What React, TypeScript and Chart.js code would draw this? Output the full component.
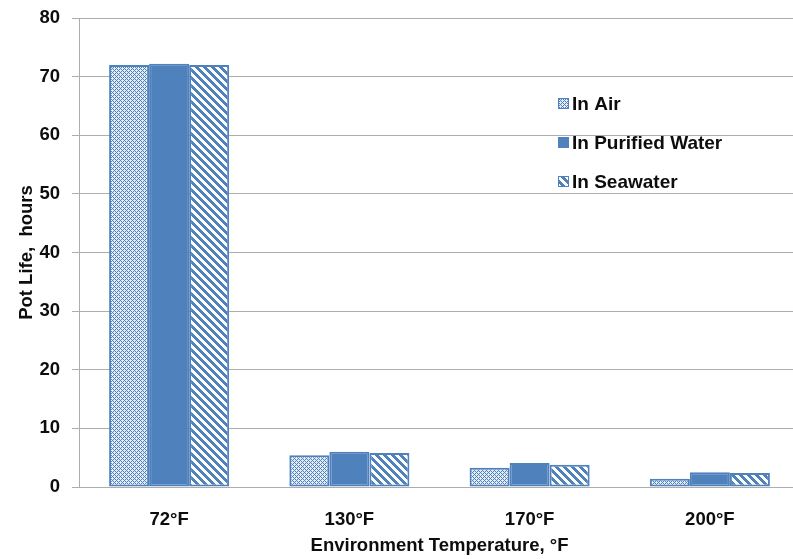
import React, { useEffect, useRef } from "react";
import { Chart, registerables } from "chart.js";

Chart.register(...registerables);

const categories = ["72°F", "130°F", "170°F", "200°F"];
const seriesNames = ["In Air", "In Purified Water", "In Seawater"];
const inAir = [72, 5.4, 3.3, 1.4];
const inPurifiedWater = [72.2, 6.0, 4.1, 2.5];
const inSeawater = [72, 5.8, 3.8, 2.4];
const yTicks = [0, 10, 20, 30, 40, 50, 60, 70, 80];

const BLUE = "#4F81BD";
const GRID = "#ADADAD";
const TEXT = "#0d0d0d";
const FONT = "'Liberation Sans', Arial, sans-serif";

function makeAirPattern(ctx: CanvasRenderingContext2D) {
  const n = 4;
  const c = document.createElement("canvas");
  c.width = n;
  c.height = n;
  const t = c.getContext("2d")!;
  for (let y = 0; y < n; y++) {
    for (let x = 0; x < n; x++) {
      const onA = (x + y) % n === 0;
      const onB = (((x - y) % n) + n) % n === 0;
      t.fillStyle = onA || onB ? BLUE : "#E4ECF6";
      t.fillRect(x, y, 1, 1);
    }
  }
  return ctx.createPattern(c, "repeat")!;
}

function makeStripePattern(ctx: CanvasRenderingContext2D) {
  const n = 8;
  const c = document.createElement("canvas");
  c.width = n;
  c.height = n;
  const t = c.getContext("2d")!;
  t.fillStyle = "#ffffff";
  t.fillRect(0, 0, n, n);
  t.fillStyle = BLUE;
  for (let y = 0; y < n; y++) {
    for (let x = 0; x < n; x++) {
      const d = (((x - y) % n) + n) % n;
      if (d < 4) t.fillRect(x, y, 1, 1);
    }
  }
  return ctx.createPattern(c, "repeat")!;
}

export default function App() {
  const ref = useRef<HTMLCanvasElement | null>(null);

  useEffect(() => {
    const canvas = ref.current!;
    const ctx = canvas.getContext("2d")!;
    const airPat = makeAirPattern(ctx);
    const seaPat = makeStripePattern(ctx);
    const fills: any[] = [airPat, BLUE, seaPat];

    const legendPlugin = {
      id: "customLegend",
      afterDraw(chart: any) {
        const c = chart.ctx as CanvasRenderingContext2D;
        const area = chart.chartArea;
        const boxX = area.left + 479;
        const textX = area.left + 493;
        const ys = [103.5, 142.5, 181.5];
        c.save();
        c.font = `bold 19px ${FONT}`;
        c.textBaseline = "middle";
        c.textAlign = "left";
        seriesNames.forEach((name, i) => {
          const cy = ys[i];
          c.fillStyle = fills[i];
          c.fillRect(boxX, cy - 5.5, 11, 11);
          c.strokeStyle = BLUE;
          c.lineWidth = 1;
          c.strokeRect(boxX + 0.5, cy - 5, 10, 10);
          c.fillStyle = TEXT;
          c.fillText(name, textX, cy + 1);
        });
        c.restore();
      },
    };

    const mk = (label: string, data: number[], fill: any) => ({
      label,
      data,
      backgroundColor: fill,
      borderColor: BLUE,
      borderWidth: 2,
      borderSkipped: false,
      categoryPercentage: 0.666,
      barPercentage: 1.0,
    });

    const chart = new Chart(ctx, {
      type: "bar",
      data: {
        labels: categories,
        datasets: [
          mk(seriesNames[0], inAir, airPat),
          mk(seriesNames[1], inPurifiedWater, BLUE),
          mk(seriesNames[2], inSeawater, seaPat),
        ],
      },
      options: {
        animation: false,
        responsive: false,
        devicePixelRatio: 1,
        layout: { padding: { left: 0, right: 0, top: 18, bottom: 0 } },
        plugins: {
          legend: { display: false },
          tooltip: { enabled: false },
          title: { display: false },
        },
        scales: {
          x: {
            grid: { display: false, drawTicks: false },
            border: { display: true, color: GRID, width: 1 },
            ticks: {
              color: TEXT,
              font: { family: FONT, size: 18.5, weight: "bold" },
              padding: 22,
              maxRotation: 0,
            },
            title: {
              display: true,
              text: "Environment Temperature, °F",
              color: TEXT,
              font: { family: FONT, size: 18.5, weight: "bold" },
              padding: { top: 0, bottom: 2 },
            },
            afterFit(scale: any) {
              scale.height = 72;
              scale.paddingLeft = 0;
              scale.paddingRight = 0;
            },
          },
          y: {
            min: 0,
            max: 80,
            afterBuildTicks(scale: any) {
              scale.ticks = yTicks.map((v) => ({ value: v }));
            },
            grid: {
              color: GRID,
              lineWidth: 1,
              drawTicks: true,
              tickLength: 7,
              tickColor: GRID,
            },
            border: { display: true, color: GRID, width: 1 },
            ticks: {
              color: TEXT,
              font: { family: FONT, size: 18.5, weight: "bold" },
              padding: 12,
            },
            title: {
              display: true,
              text: "Pot Life,  hours",
              color: TEXT,
              font: { family: FONT, size: 18.5, weight: "bold" },
              padding: { top: 16, bottom: 0 },
            },
            afterFit(scale: any) {
              scale.width = 79;
              scale.paddingTop = 0;
              scale.paddingBottom = 0;
            },
          },
        },
      },
      plugins: [legendPlugin],
    } as any);

    return () => chart.destroy();
  }, []);

  return (
    <div
      style={{
        position: "fixed",
        left: 0,
        top: 0,
        width: 793,
        height: 559,
        overflow: "hidden",
        background: "#ffffff",
      }}
    >
      <canvas
        ref={ref}
        width={800}
        height={559}
        style={{ width: 800, height: 559, display: "block" }}
      />
    </div>
  );
}
